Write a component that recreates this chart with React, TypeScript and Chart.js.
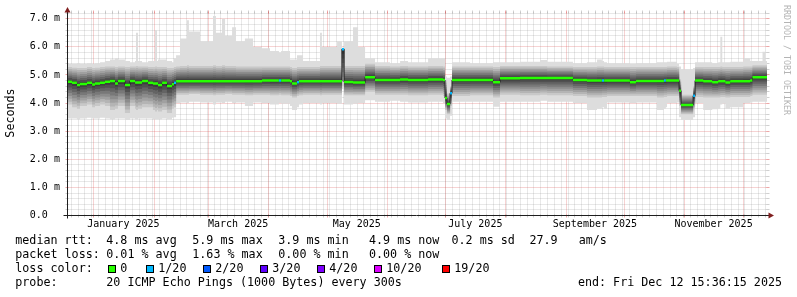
import React, { useEffect, useRef } from 'react';
import { Chart, registerables } from 'chart.js';

Chart.register(...registerables);

// ---------------- data ----------------
const RANGE_DAYS = 360; // "last 360 days" ending Fri Dec 12 15:36:15 2025
const Y_MAX = 7.22;

// bucket start (days since window start)
const DAYS = [
  0, 2.6, 5.1, 6.7, 10.3, 12.9, 14.4, 17.0, 19.5, 22.1, 24.7, 26.2, 29.8, 32.4, 35.0, 35.5, 36.5, 38.6, 41.7, 44.2, 45.3, 46.3, 46.8, 48.9, 51.4, 54.0, 55.0,
  56.1, 58.1, 61.7, 62.7, 68.4, 75.1, 76.6, 79.7, 81.3, 84.9, 86.9, 91.5, 95.7, 100.3, 104.4, 109.0, 110.1, 114.7, 115.7, 118.3, 119.3, 121.4, 130.1, 131.1, 138.9, 141.4, 142.5, 147.1, 149.7,
  153.3, 158.4, 166.1, 171.3, 175.4, 185.7, 193.4,
  194.4, 195.4, 197.0,
  198.0, 207.3, 219.1, 222.7, 233.0, 243.3, 246.9, 260.2, 267.4, 272.6, 275.1, 276.2, 277.7, 289.5, 292.6, 303.4, 307.0, 308.0, 308.6, 313.7,
  314.8, 315.8, 322.0,
  323.0, 327.2, 331.8, 334.9, 336.0, 337.0, 338.6, 341.1, 347.8, 351.4, 352.5, 357.7, 359.2,
];

// smoke envelope (ms): outermost ping high / low
const RTT_MAX = [
  5.40, 5.40, 5.42, 5.40, 5.42, 5.40, 5.42, 5.45, 5.50, 5.55, 5.60, 5.55, 5.50, 5.45, 5.50, 6.50, 5.50, 5.45, 5.50, 5.50, 6.60, 5.50, 5.55, 5.55, 5.50, 5.45, 5.60,
  5.70, 6.30, 6.95, 6.55, 6.20, 7.10, 6.50, 7.00, 6.40, 6.70, 6.20, 6.30, 6.00, 5.95, 5.85, 5.80, 5.85, 5.55, 5.55, 5.70, 5.70, 5.50, 6.50, 6.00, 6.20, 5.97, 6.20, 6.70, 6.00,
  5.60, 5.45, 5.42, 5.50, 5.45, 5.60, 5.60,
  4.95, 4.90, 4.95,
  5.45, 5.42, 5.45, 5.45, 5.47, 5.53, 5.47, 5.42, 5.45, 5.55, 5.50, 5.45, 5.42, 5.40, 5.42, 5.45, 5.45, 5.45, 5.47, 5.40,
  5.30, 5.20, 5.25,
  5.45, 5.45, 5.42, 5.45, 6.36, 5.45, 5.45, 5.47, 5.60, 5.50, 5.50, 5.83, 5.50,
];
// dense smoke upper edge
const RTT_HI = [
  5.28, 5.26, 5.25, 5.25, 5.28, 5.25, 5.26, 5.28, 5.30, 5.30, 5.28, 5.30, 5.28, 5.30, 5.30, 5.32, 5.30, 5.30, 5.28, 5.28, 5.30, 5.28, 5.28, 5.28, 5.25, 5.25, 5.28,
  5.30, 5.32, 5.35, 5.32, 5.32, 5.35, 5.32, 5.35, 5.32, 5.32, 5.30, 5.30, 5.30, 5.30, 5.30, 5.30, 5.30, 5.28, 5.25, 5.28, 5.28, 5.28, 5.32, 5.32, 5.32, 5.95, 5.32, 5.32, 5.32,
  5.40, 5.32, 5.30, 5.32, 5.30, 5.32, 5.30,
  4.80, 4.35, 4.60,
  5.30, 5.30, 5.28, 5.32, 5.32, 5.32, 5.30, 5.28, 5.28, 5.30, 5.30, 5.28, 5.28, 5.28, 5.28, 5.28, 5.28, 5.28, 5.30, 5.28,
  4.85, 4.30, 4.60,
  5.28, 5.28, 5.28, 5.28, 5.30, 5.28, 5.28, 5.28, 5.30, 5.30, 5.35, 5.35, 5.35,
];
// median rtt
const RTT_MED = [
  4.76, 4.72, 4.64, 4.68, 4.72, 4.66, 4.70, 4.72, 4.76, 4.79, 4.70, 4.79, 4.64, 4.79, 4.73, 4.73, 4.73, 4.79, 4.72, 4.70, 4.70, 4.70, 4.64, 4.72, 4.61, 4.67, 4.72,
  4.78, 4.78, 4.78, 4.78, 4.78, 4.78, 4.78, 4.78, 4.78, 4.78, 4.78, 4.78, 4.78, 4.80, 4.80, 4.80, 4.80, 4.78, 4.70, 4.74, 4.78, 4.78, 4.78, 4.78, 4.78, 5.92, 4.75, 4.73, 4.73,
  4.92, 4.82, 4.82, 4.84, 4.82, 4.84, 4.82,
  4.18, 3.97, 4.35,
  4.82, 4.82, 4.74, 4.88, 4.89, 4.89, 4.89, 4.82, 4.80, 4.80, 4.80, 4.80, 4.80, 4.74, 4.79, 4.79, 4.80, 4.80, 4.80, 4.80,
  4.44, 3.93, 4.26,
  4.80, 4.78, 4.74, 4.78, 4.78, 4.78, 4.73, 4.78, 4.78, 4.80, 4.92, 4.92, 4.92,
];
// dense smoke lower edge
const RTT_LO = [
  3.95, 3.85, 3.80, 3.90, 3.95, 3.85, 3.90, 3.95, 3.90, 3.75, 3.80, 3.90, 3.65, 3.90, 3.80, 3.75, 3.80, 3.85, 3.85, 3.75, 3.70, 3.75, 3.70, 3.75, 3.65, 3.80, 3.85,
  4.30, 4.30, 4.30, 4.32, 4.30, 4.28, 4.30, 4.30, 4.32, 4.30, 4.30, 4.28, 4.30, 4.30, 4.28, 4.30, 4.28, 4.25, 4.20, 4.25, 4.28, 4.30, 4.28, 4.30, 4.30, 4.60, 4.28, 4.28, 4.28,
  4.40, 4.30, 4.30, 4.30, 4.28, 4.30, 4.25,
  3.75, 3.60, 3.90,
  4.25, 4.28, 4.20, 4.30, 4.28, 4.30, 4.28, 4.25, 4.20, 4.20, 4.22, 4.22, 4.25, 4.25, 4.25, 4.20, 4.22, 4.22, 4.25, 4.25,
  3.90, 3.60, 3.80,
  4.22, 4.20, 4.20, 4.20, 4.22, 4.22, 4.20, 4.22, 4.22, 4.25, 4.30, 4.30, 4.30,
];
const RTT_MIN = [
  3.45, 3.45, 3.42, 3.45, 3.48, 3.45, 3.45, 3.48, 3.45, 3.42, 3.45, 3.45, 3.40, 3.45, 3.42, 3.42, 3.45, 3.45, 3.45, 3.42, 3.42, 3.42, 3.42, 3.45, 3.42, 3.48, 3.50,
  4.00, 4.02, 4.00, 4.05, 4.02, 3.95, 4.02, 4.00, 4.05, 4.00, 4.02, 3.90, 4.02, 4.00, 3.95, 4.00, 3.98, 3.90, 3.75, 3.85, 3.95, 4.00, 3.95, 4.00, 3.98, 4.50, 3.95, 3.98, 4.00,
  4.10, 4.05, 4.08, 4.05, 4.02, 4.05, 4.00,
  3.45, 3.40, 3.55,
  4.05, 4.05, 3.87, 4.05, 4.05, 4.08, 4.05, 4.00, 3.75, 3.80, 3.85, 3.80, 4.02, 4.00, 4.02, 3.75, 3.80, 3.85, 4.00, 4.02,
  3.50, 3.40, 3.50,
  4.00, 3.75, 3.78, 3.80, 3.95, 3.98, 3.80, 3.85, 4.00, 4.02, 4.05, 4.05, 4.05,
];
// lost pings out of 20
const LOSS = [
  0, 0, 0, 0, 0, 0, 0, 0, 0, 0, 0, 0, 0, 0, 0, 0, 0, 0, 0, 0, 0, 0, 0, 0, 0, 0, 1,
  0, 0, 0, 0, 0, 0, 0, 0, 0, 0, 0, 0, 0, 0, 0, 1, 0, 0, 0, 1, 0, 0, 0, 0, 0, 1, 0, 0, 0,
  0, 0, 0, 0, 0, 0, 0,
  0, 0, 1,
  0, 0, 0, 0, 0, 0, 0, 0, 0, 0, 1, 0, 0, 0, 0, 0, 1, 0, 0, 0,
  0, 0, 1,
  0, 0, 0, 0, 0, 0, 0, 0, 0, 0, 0, 0, 0,
];

const Y_TICK_VALUES = [0, 1, 2, 3, 4, 5, 6, 7];
const Y_TICK_LABELS = ['0.0', '1.0 m', '2.0 m', '3.0 m', '4.0 m', '5.0 m', '6.0 m', '7.0 m'];
const MONTH_START_DAYS = [13.5, 44.5, 72.5, 103.5, 133.5, 164.5, 194.5, 225.5, 256.5, 286.5, 317.5, 347.5];
const MONTH_LABEL_DAYS = [29, 88, 149, 210, 271.5, 332.5];
const MONTH_LABELS = ['January 2025', 'March 2025', 'May 2025', 'July 2025', 'September 2025', 'November 2025'];

const LOSS_LEVELS = [0, 1, 2, 3, 4, 10, 19];
const LOSS_LABELS = ['0', '1/20', '2/20', '3/20', '4/20', '10/20', '19/20'];
const LOSS_COLORS = ['#26ff00', '#00b8ff', '#0059ff', '#5e00ff', '#7e00ff', '#dd00ff', '#ff0000'];

const RTT_LEGEND = ['median rtt:', '4.8 ms avg', '5.9 ms max', '3.9 ms min', '4.9 ms now', '0.2 ms sd', '27.9   am/s'];
const LOSS_LEGEND = ['packet loss:', '0.01 % avg', '1.63 % max', '0.00 % min', '0.00 % now'];
const PROBE_TEXT = ['probe:', '20 ICMP Echo Pings (1000 Bytes) every 300s'];
const END_TEXT = 'end: Fri Dec 12 15:36:15 2025';
const Y_TITLE = 'Seconds';
const WATERMARK = 'RRDTOOL / TOBI OETIKER';

// ---------------- layout / style ----------------
const W = 797;
const H = 297;
const MONO = '"DejaVu Sans Mono", monospace';
const SMOKE_FRACTIONS = [1, 0.875, 0.75, 0.625, 0.5, 0.375, 0.25, 0.125];
const SMOKE_COLORS = ['#c8c8c8', '#b4b4b4', '#a0a0a0', '#8c8c8c', '#787878', '#646464', '#505050', '#3c3c3c'];
const ENVELOPE_COLOR = '#dddddd';

function lossClass(n: number) {
  let c = 0;
  for (let i = 0; i < LOSS_LEVELS.length; i++) if (n >= LOSS_LEVELS[i]) c = i;
  return c;
}

function stepPoints(vals: number[]) {
  const pts = DAYS.map((d, i) => ({ x: d, y: vals[i] }));
  pts.push({ x: RANGE_DAYS, y: vals[vals.length - 1] });
  return pts;
}

// colored median marks: one horizontal stroke per bucket, no vertical joins
function medianPoints(cls: number) {
  const pts: { x: number; y: number | null }[] = [];
  for (let i = 0; i < DAYS.length; i++) {
    const x0 = DAYS[i];
    const x1 = i + 1 < DAYS.length ? DAYS[i + 1] : RANGE_DAYS;
    if (lossClass(LOSS[i]) === cls) {
      pts.push({ x: x0, y: RTT_MED[i] }, { x: x1, y: RTT_MED[i] }, { x: x1, y: null });
    }
  }
  return pts;
}

const gridPlugin = {
  id: 'rrdGrid',
  beforeDatasetsDraw(chart: any) {
    const ctx: CanvasRenderingContext2D = chart.ctx;
    const xs = chart.scales.x;
    const ys = chart.scales.y;
    const a = chart.chartArea;
    const px = (d: number) => Math.round(xs.getPixelForValue(d)) + 0.5;
    const py = (v: number) => Math.floor(ys.getPixelForValue(v)) + 0.5;
    const L = Math.round(a.left) + 0.5;
    const R = Math.round(a.right) + 0.5;
    const T = Math.floor(a.top) + 0.5;
    const B = py(0);
    const gridCol = 'rgba(143,143,143,0.42)';
    const mgridCol = 'rgba(222,79,79,0.5)';

    ctx.save();
    ctx.lineWidth = 1;
    const hline = (y: number, col: string) => {
      ctx.strokeStyle = col;
      ctx.setLineDash([]);
      ctx.beginPath();
      ctx.moveTo(L - 2, y); ctx.lineTo(L + 1, y);
      ctx.moveTo(R - 1, y); ctx.lineTo(R + 2, y);
      ctx.stroke();
      ctx.setLineDash([1, 1]);
      ctx.beginPath();
      ctx.moveTo(L, y); ctx.lineTo(R, y);
      ctx.stroke();
    };
    const vline = (x: number, col: string) => {
      ctx.strokeStyle = col;
      ctx.setLineDash([]);
      ctx.beginPath();
      ctx.moveTo(x, B + 2); ctx.lineTo(x, B - 1);
      ctx.moveTo(x, T + 1); ctx.lineTo(x, T - 2);
      ctx.stroke();
      ctx.setLineDash([1, 1]);
      ctx.beginPath();
      ctx.moveTo(x, B); ctx.lineTo(x, T);
      ctx.stroke();
    };
    for (let k = 1; k * 0.2 <= Y_MAX + 1e-9; k++) {
      if (k % 5 === 0) continue;
      hline(py(k * 0.2), gridCol);
    }
    for (let d = 1.9; d < RANGE_DAYS; d += 3.5) vline(px(d), gridCol);
    Y_TICK_VALUES.forEach((v) => { if (v > 0) hline(py(v), mgridCol); });
    MONTH_START_DAYS.forEach((d) => vline(px(d), mgridCol));
    ctx.restore();
  },
};

const overlay = {
  id: 'rrdOverlay',
  afterDatasetsDraw(chart: any) {
    const ctx: CanvasRenderingContext2D = chart.ctx;
    const xs = chart.scales.x;
    const ys = chart.scales.y;
    const a = chart.chartArea;
    const py = (v: number) => Math.floor(ys.getPixelForValue(v)) + 0.5;
    const L = Math.round(a.left) + 0.5;
    const R = Math.round(a.right) + 0.5;
    const T = Math.floor(a.top) + 0.5;
    const B = py(0);

    ctx.save();
    ctx.lineWidth = 1;
    // axes
    ctx.setLineDash([]);
    ctx.strokeStyle = '#1f1f1f';
    ctx.beginPath();
    ctx.moveTo(L - 4, B); ctx.lineTo(R + 2, B);
    ctx.moveTo(L, B + 3); ctx.lineTo(L, T - 1);
    ctx.stroke();
    ctx.fillStyle = 'rgb(128,31,31)';
    ctx.beginPath();
    ctx.moveTo(L - 3, T); ctx.lineTo(L + 3, T); ctx.lineTo(L, T - 5.5); ctx.closePath();
    ctx.fill();
    ctx.beginPath();
    ctx.moveTo(R + 1, B - 3); ctx.lineTo(R + 1, B + 3); ctx.lineTo(R + 6.5, B); ctx.closePath();
    ctx.fill();

    // axis labels
    ctx.fillStyle = '#000';
    ctx.font = `10px ${MONO}`;
    ctx.textBaseline = 'middle';
    ctx.textAlign = 'left';
    Y_TICK_VALUES.forEach((v, i) => ctx.fillText(Y_TICK_LABELS[i], 29.8, ys.getPixelForValue(v)));
    ctx.textAlign = 'center';
    MONTH_LABEL_DAYS.forEach((d, i) => ctx.fillText(MONTH_LABELS[i], xs.getPixelForValue(d), 224.5));

    // y title
    ctx.font = `11.7px ${MONO}`;
    ctx.save();
    ctx.translate(10.5, 113);
    ctx.rotate(-Math.PI / 2);
    ctx.textAlign = 'center';
    ctx.fillText(Y_TITLE, 0, 0);
    ctx.restore();

    // watermark
    ctx.save();
    ctx.translate(786, 60);
    ctx.rotate(Math.PI / 2);
    ctx.font = `8.3px ${MONO}`;
    ctx.fillStyle = '#b4b4b4';
    ctx.textAlign = 'center';
    ctx.fillText(WATERMARK, 0, 0);
    ctx.restore();

    // legend
    ctx.font = `11.7px ${MONO}`;
    ctx.textAlign = 'left';
    ctx.fillStyle = '#000';
    const colX = [15.3, 106.3, 192.3, 278.3, 369, 451.5, 529.5];
    RTT_LEGEND.forEach((t, i) => ctx.fillText(t, colX[i], 240.7));
    LOSS_LEGEND.forEach((t, i) => ctx.fillText(t, colX[i], 255));
    ctx.fillText('loss color:', 15.3, 269);
    const boxX = [108, 146, 203, 260, 317, 374, 442];
    LOSS_LABELS.forEach((t, i) => {
      ctx.fillStyle = LOSS_COLORS[i];
      ctx.fillRect(boxX[i], 265, 8, 8);
      ctx.strokeStyle = '#000';
      ctx.strokeRect(boxX[i] + 0.5, 265.5, 7, 7);
      ctx.fillStyle = '#000';
      ctx.fillText(t, boxX[i] + 12.3, 269);
    });
    ctx.fillText(PROBE_TEXT[0], 15.3, 283.3);
    ctx.fillText(PROBE_TEXT[1], colX[1], 283.3);
    ctx.textAlign = 'right';
    ctx.fillText(END_TEXT, 782, 283.3);
    ctx.restore();
  },
};

export default function App() {
  const ref = useRef<HTMLCanvasElement>(null);

  useEffect(() => {
    const medHi = (f: number) => RTT_MED.map((m, i) => m + f * (RTT_HI[i] - m));
    const medLo = (f: number) => RTT_MED.map((m, i) => m - f * (m - RTT_LO[i]));
    const base = { pointRadius: 0, pointHitRadius: 0, borderWidth: 0, borderColor: 'transparent', tension: 0 };

    const datasets: any[] = [];
    const classes = Array.from(new Set(LOSS.map(lossClass))).sort((p, q) => q - p);
    classes.forEach((c) => {
      datasets.push({
        ...base,
        label: 'median ' + LOSS_LABELS[c],
        data: medianPoints(c),
        borderColor: LOSS_COLORS[c],
        borderWidth: 2.5,
        borderCapStyle: 'butt',
        fill: false,
        spanGaps: false,
        order: 0,
      });
    });
    // thin dark median trace underneath the colored marks
    datasets.push({
      ...base,
      label: 'median',
      data: stepPoints(RTT_MED),
      stepped: 'before',
      borderColor: '#202020',
      borderWidth: 1,
      fill: false,
      order: 1,
    });
    const envIdx = datasets.length;
    datasets.push({ ...base, label: 'max', data: stepPoints(RTT_MAX), stepped: 'before', fill: envIdx + 1, backgroundColor: ENVELOPE_COLOR, order: 30 });
    datasets.push({ ...base, label: 'min', data: stepPoints(RTT_MIN), stepped: 'before', fill: false, order: 30 });
    SMOKE_FRACTIONS.forEach((f, k) => {
      const idx = datasets.length;
      datasets.push({ ...base, label: 'smoke+' + k, data: stepPoints(medHi(f)), stepped: 'before', fill: idx + 1, backgroundColor: SMOKE_COLORS[k], order: 20 - k });
      datasets.push({ ...base, label: 'smoke-' + k, data: stepPoints(medLo(f)), stepped: 'before', fill: false, order: 20 - k });
    });

    const chart = new Chart(ref.current as HTMLCanvasElement, {
      type: 'line',
      data: { datasets },
      options: {
        animation: false,
        responsive: false,
        devicePixelRatio: 1,
        events: [],
        layout: { padding: { left: 67, right: 30, top: 12.6, bottom: 81.5 } },
        scales: {
          x: { type: 'linear', min: 0, max: RANGE_DAYS, display: false },
          y: { type: 'linear', min: 0, max: Y_MAX, display: false },
        },
        plugins: { legend: { display: false }, tooltip: { enabled: false } },
      },
      plugins: [gridPlugin, overlay],
    } as any);
    return () => chart.destroy();
  }, []);

  return (
    <div style={{ position: 'absolute', left: 0, top: 0, width: W, height: H, background: '#fff' }}>
      <canvas ref={ref} width={W} height={H} style={{ display: 'block', width: W, height: H }} />
    </div>
  );
}
